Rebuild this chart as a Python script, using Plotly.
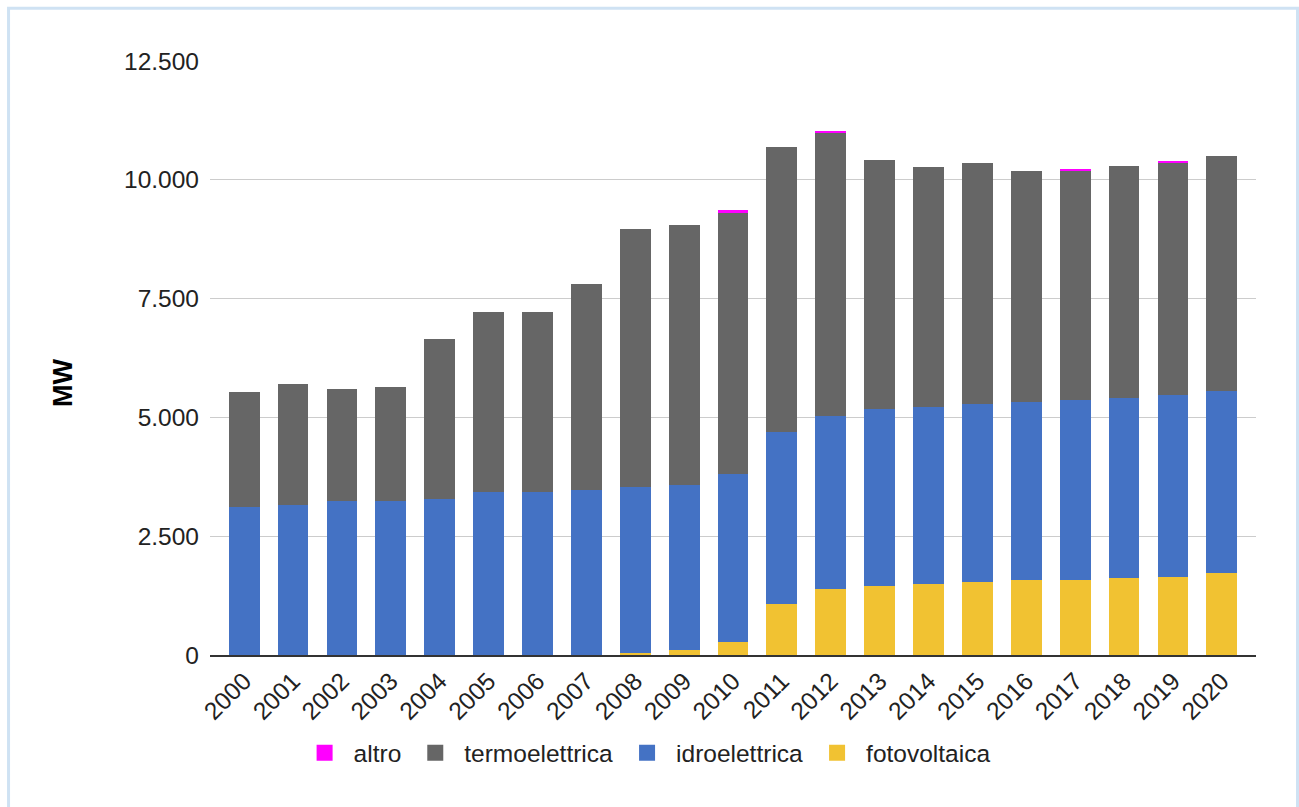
import plotly.graph_objects as go

years = [str(y) for y in range(2000, 2021)]

fotovoltaica = [0, 0, 0, 0, 0, 0, 0, 0, 50, 95, 280, 1080, 1380, 1460, 1500,
                1535, 1570, 1575, 1610, 1650, 1725]
idroelettrica = [3125, 3160, 3235, 3235, 3280, 3430, 3430, 3470, 3485, 3478, 3527,
                 3605, 3647, 3716, 3716, 3752, 3759, 3796, 3794, 3829, 3831]
termoelettrica = [2400, 2550, 2355, 2405, 3379, 3794, 3794, 4328, 5439, 5474, 5508,
                  5999, 5959, 5243, 5053, 5059, 4863, 4828, 4897, 4878, 4939]
altro = [0, 0, 0, 0, 0, 0, 0, 0, 0, 0, 40, 0, 35, 0, 0, 0, 0, 30, 0, 30, 0]

y_ticks = [0, 2500, 5000, 7500, 10000, 12500]

series = [
    ("fotovoltaica", fotovoltaica, "#f1c232"),
    ("idroelettrica", idroelettrica, "#4472c4"),
    ("termoelettrica", termoelettrica, "#666666"),
    ("altro", altro, "#ff00ff"),
]

FONT = "Liberation Sans, Arial, sans-serif"
FS = 24.5

fig = go.Figure()
for name, vals, color in series:
    fig.add_trace(go.Bar(x=years, y=vals, name=name, marker=dict(color=color, line=dict(width=0)),
                         showlegend=False))
# legend entries (square swatches)
for name, vals, color in series:
    fig.add_trace(go.Scatter(x=[None], y=[None], mode="markers", name=name,
                             marker=dict(symbol="square", size=16, color=color)))

fig.update_layout(
    width=1299, height=807,
    barmode="stack", bargap=0.37,
    separators=",.",
    paper_bgcolor="white", plot_bgcolor="white",
    margin=dict(l=210, r=43, t=61, b=152, autoexpand=False),
    font=dict(family=FONT, size=FS, color="#222222"),
    showlegend=True,
    legend=dict(orientation="h", traceorder="reversed", xref="container", yref="container",
                x=0.497, xanchor="center", y=0.067, yanchor="middle",
                font=dict(size=FS, color="#222222"), itemwidth=48),
    xaxis=dict(type="category", range=[-0.7, 20.7], tickangle=-45, showgrid=False,
               showline=True, linecolor="#333333", linewidth=2, ticks="", automargin=False,
               tickfont=dict(size=FS, color="#222222")),
    yaxis=dict(range=[0, 12500], tickvals=y_ticks, tickformat=",d", showgrid=True,
               gridcolor="#cccccc", gridwidth=1, zeroline=False, ticks="", automargin=False,
               ticklabelstandoff=10, tickfont=dict(size=FS, color="#222222")),
    annotations=[dict(text="<b>MW</b>", textangle=-90, xref="paper", yref="paper",
                      x=-0.1405, y=0.458, xanchor="center", yanchor="middle",
                      showarrow=False, font=dict(size=27, color="#000000"))],
    shapes=[dict(type="rect", xref="paper", yref="paper", x0=-0.1926, x1=1.0397,
                 y0=-0.30, y1=1.089, line=dict(color="#cfe2f3", width=3), layer="below")],
)

fig.write_html("out.html")
